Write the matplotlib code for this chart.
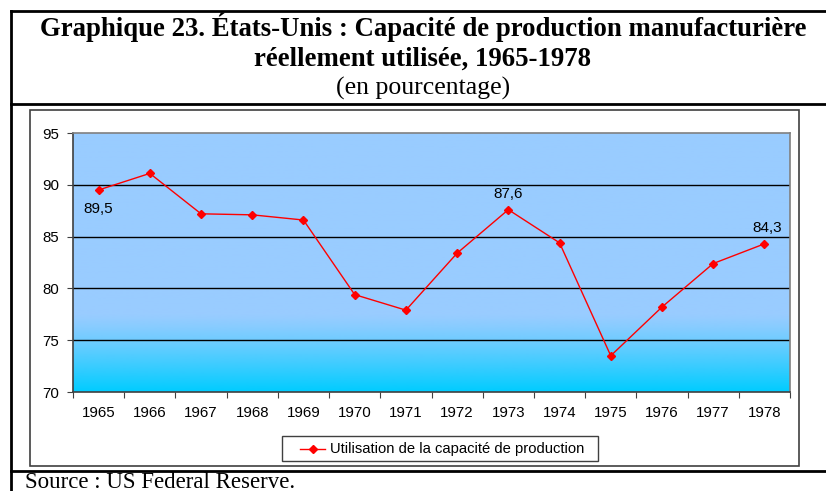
import numpy as np
import matplotlib.pyplot as plt
from matplotlib.lines import Line2D
from matplotlib.patches import Rectangle

years = ['1965', '1966', '1967', '1968', '1969', '1970', '1971',
         '1972', '1973', '1974', '1975', '1976', '1977', '1978']
utilisation = [89.5, 91.1, 87.2, 87.1, 86.6, 79.4, 77.9,
               83.4, 87.6, 84.4, 73.5, 78.2, 82.4, 84.3]
labelled = {0: 'below', 8: 'above', 13: 'above'}
serie_name = 'Utilisation de la capacité de production'

W, H = 826, 491
fig = plt.figure(figsize=(W / 100, H / 100), dpi=100)

def fx(px):
    return px / W

def fy(py):
    return 1 - py / H

def hline(y, x0, x1, lw=2.0, c='black'):
    fig.add_artist(Line2D([fx(x0), fx(x1)], [fy(y), fy(y)], color=c, lw=lw))

def vline(x, y0, y1, lw=2.0, c='black'):
    fig.add_artist(Line2D([fx(x), fx(x)], [fy(y0), fy(y1)], color=c, lw=lw))

# cadre du tableau
hline(11, 11, W)
hline(104, 11, W)
hline(471, 11, W)
vline(11, 11, H)

# titre
serif = 'Liberation Serif'
fig.text(fx(423), fy(36), 'Graphique 23. États-Unis : Capacité de production manufacturière',
         ha='center', va='baseline', fontsize=19.3, fontweight='bold', family=serif)
fig.text(fx(423), fy(66), 'réellement utilisée, 1965-1978',
         ha='center', va='baseline', fontsize=19.3, fontweight='bold', family=serif)
fig.text(fx(423), fy(95), '(en pourcentage)',
         ha='center', va='baseline', fontsize=18.5, family=serif)
fig.text(fx(25), fy(488), 'Source : US Federal Reserve.',
         ha='left', va='baseline', fontsize=16.5, family=serif)

# cadre du graphique
fig.add_artist(Rectangle((fx(30), fy(466)), fx(799) - fx(30), fy(110) - fy(466),
                         transform=fig.transFigure, fill=False, ec='#404040', lw=1.2))

ax = fig.add_axes([fx(73), fy(392), fx(790) - fx(73), fy(133) - fy(392)])
x = np.arange(len(years))
ax.set_xlim(-0.5, len(years) - 0.5)
ax.set_ylim(70, 95)

# fond degrade
top = np.array([0x99, 0xCC, 0xFF]) / 255
bot = np.array([0x00, 0xCC, 0xFF]) / 255
yy = np.linspace(95, 70, 300)
t = np.clip((77.5 - yy) / 7.5, 0, 1) ** 1.2
grad = top[None, :] * (1 - t[:, None]) + bot[None, :] * t[:, None]
ax.imshow(grad[:, None, :], extent=[-0.5, len(years) - 0.5, 70, 95],
          aspect='auto', zorder=0)

for v in [75, 80, 85, 90]:
    ax.axhline(v, color='black', lw=1.0, zorder=1)

ax.plot(x, utilisation, color='red', lw=1.0, marker='D', ms=4.5,
        mec='red', mfc='red', zorder=3)

sans = 'Liberation Sans'
for i, pos in labelled.items():
    txt = f'{utilisation[i]:.1f}'.replace('.', ',')
    dy = -14 if pos == 'below' else 11.5
    ax.annotate(txt, (x[i], utilisation[i]), xytext=(2 if i == 13 else 0, dy),
                textcoords='offset points', ha='center', va='center',
                fontsize=11, family=sans, zorder=4)

ax.set_xticks(np.arange(-0.5, len(years), 1))
ax.set_xticklabels([])
ax.set_xticks(x, minor=True)
ax.set_xticklabels(years, minor=True, fontsize=10.8, family=sans)
ax.tick_params(axis='x', which='major', length=4, direction='out', color='#404040')
ax.tick_params(axis='x', which='minor', length=0, pad=10)
ax.set_yticks([70, 75, 80, 85, 90, 95])
ax.set_yticklabels(['70', '75', '80', '85', '90', '95'], fontsize=10.8, family=sans)
ax.tick_params(axis='y', length=4, direction='out', color='#404040', pad=6)

for s in ['left', 'bottom']:
    ax.spines[s].set_color('#404040')
    ax.spines[s].set_linewidth(1.2)
for s in ['top', 'right']:
    ax.spines[s].set_color('#808080')
    ax.spines[s].set_linewidth(1.2)

# legende
fig.add_artist(Rectangle((fx(282), fy(461)), fx(598) - fx(282), fy(436) - fy(461),
                         transform=fig.transFigure, fill=True, fc='white',
                         ec='#404040', lw=1.0))
fig.add_artist(Line2D([fx(300), fx(325)], [fy(448.5), fy(448.5)], color='red', lw=1.0))
fig.add_artist(Line2D([fx(312.5)], [fy(448.5)], color='red', marker='D', ms=4.5,
                      mec='red', mfc='red'))
fig.text(fx(330), fy(448.5), serie_name, ha='left', va='center',
         fontsize=10.6, family=sans)

fig.savefig('out.png', dpi=100)
